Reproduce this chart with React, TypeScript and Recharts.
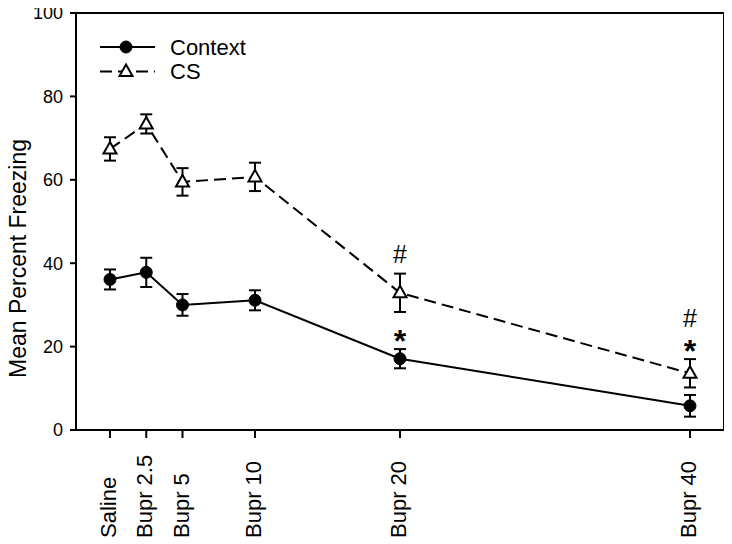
import React from 'react';
import { LineChart, Line, XAxis, YAxis, ErrorBar, ReferenceLine, Legend, LabelList, Label } from 'recharts';

const doses = [0, 2.5, 5, 10, 20, 40];
const doseLabels = ['Saline', 'Bupr 2.5', 'Bupr 5', 'Bupr 10', 'Bupr 20', 'Bupr 40'];
const contextMean = [36.1, 37.8, 30.0, 31.1, 17.1, 5.8];
const contextSem = [2.4, 3.5, 2.6, 2.4, 2.3, 2.6];
const csMean = [67.4, 73.4, 59.5, 60.7, 32.9, 13.6];
const csSem = [2.8, 2.3, 3.3, 3.4, 4.6, 3.4];
// significance marks, stacked bottom-up above the error bar
const contextMarks = ['', '', '', '', '*', ''];
const csMarks = ['', '', '', '', '#', '*#'];
const yTicks = [0, 20, 40, 60, 80, 100];
const seriesNames = ['Context', 'CS'];

const data = doses.map((d, i) => ({
  dose: d,
  context: contextMean[i],
  contextErr: contextSem[i],
  contextTop: contextMean[i] + contextSem[i],
  contextMark: contextMarks[i],
  cs: csMean[i],
  csErr: csSem[i],
  csTop: csMean[i] + csSem[i],
  csMark: csMarks[i],
}));

const X_MIN = -2.345;
const X_MAX = 42.345;
const BLACK = '#000';

const XTick = (props: any) => {
  const { x, y, payload } = props;
  const idx = doses.indexOf(payload.value);
  return (
    <text
      transform={`translate(${x},${y + 98}) rotate(-90)`}
      x={0}
      y={6}
      textAnchor="start"
      fontSize={22}
      fill={BLACK}
    >
      {doseLabels[idx]}
    </text>
  );
};

const CircleDot = (p: any) => (
  <circle key={`cd${p.index}`} cx={p.cx} cy={p.cy} r={6} fill={BLACK} stroke={BLACK} strokeWidth={1} />
);

const TriDot = (p: any) => {
  const { cx, cy } = p;
  const d = `M${cx},${cy - 7} L${cx + 6.5},${cy + 4.5} L${cx - 6.5},${cy + 4.5} Z`;
  return <path key={`td${p.index}`} d={d} fill="#fff" stroke={BLACK} strokeWidth={2} strokeLinejoin="miter" />;
};

const renderMarks = (p: any) => {
  const { x, y, value, index } = p;
  if (!value) return null;
  return (
    <g key={`mk${index}`}>
      {String(value).split('').map((ch, i) => {
        const cy = y - 16 - 22 * i - (ch === '#' ? 3 : 0);
        const fs = ch === '*' ? 32 : 25;
        const base = ch === '*' ? cy + 18.5 : cy + 8.6;
        return (
          <text
            key={i}
            x={x}
            y={base}
            textAnchor="middle"
            fontSize={fs}
            fontWeight={ch === '*' ? 'bold' : 'normal'}
            fill={BLACK}
          >
            {ch}
          </text>
        );
      })}
    </g>
  );
};

const renderYLabel = (p: any) => {
  const vb = p.viewBox || { x: 0, y: 13, width: 76, height: 417 };
  const cx = vb.x + 26;
  const cy = vb.y + vb.height / 2 + 37;
  return (
    <text transform={`translate(${cx},${cy}) rotate(-90)`} textAnchor="middle" fontSize={23} fill={BLACK}>
      Mean Percent Freezing
    </text>
  );
};

const renderLegend = () => (
  <svg width={180} height={56}>
    {seriesNames.map((name, i) => {
      const y = 15 + i * 24.5;
      return (
        <g key={name}>
          <line
            x1={4}
            x2={59}
            y1={y}
            y2={y}
            stroke={BLACK}
            strokeWidth={2}
            strokeDasharray={i === 1 ? '12 6' : undefined}
          />
          {i === 0 ? CircleDot({ cx: 30, cy: y, index: 'l0' }) : TriDot({ cx: 30, cy: y, index: 'l1' })}
          <text x={74} y={y} dy="0.36em" fontSize={22} fill={BLACK}>
            {name}
          </text>
        </g>
      );
    })}
  </svg>
);

export default function App() {
  return (
    <div
      style={{
        fontFamily: '"Liberation Sans", Arial, sans-serif',
        background: '#fff',
        width: 732,
        height: 544,
        margin: '-8px 0 0 -8px',
      }}
    >
      <LineChart width={732} height={544} data={data} margin={{ top: 13, right: 8, left: 0, bottom: 0 }}>
        <XAxis
          dataKey="dose"
          type="number"
          domain={[X_MIN, X_MAX]}
          ticks={doses}
          interval={0}
          height={114}
          tickSize={8}
          tickMargin={2}
          tick={<XTick />}
          axisLine={{ stroke: BLACK, strokeWidth: 2 }}
          tickLine={{ stroke: BLACK, strokeWidth: 2 }}
        />
        <YAxis
          type="number"
          domain={[0, 100]}
          ticks={yTicks}
          interval={0}
          width={76}
          tickSize={6}
          tickMargin={7}
          tick={{ fontSize: 18, fill: BLACK }}
          axisLine={{ stroke: BLACK, strokeWidth: 2 }}
          tickLine={{ stroke: BLACK, strokeWidth: 2 }}
        >
          <Label content={renderYLabel} />
        </YAxis>
        <ReferenceLine y={100} stroke={BLACK} strokeWidth={2} ifOverflow="visible" />
        <ReferenceLine x={X_MAX} stroke={BLACK} strokeWidth={2} ifOverflow="visible" />
        <Legend
          layout="horizontal"
          verticalAlign="middle"
          align="center"
          content={renderLegend}
          wrapperStyle={{ left: 96, top: 32, width: 180, height: 56 }}
        />
        <Line
          name="Context"
          dataKey="context"
          stroke={BLACK}
          strokeWidth={2}
          dot={CircleDot}
          activeDot={false}
          isAnimationActive={false}
        >
          <ErrorBar dataKey="contextErr" direction="y" width={6} stroke={BLACK} strokeWidth={2} />
        </Line>
        <Line
          name="CS"
          dataKey="cs"
          stroke={BLACK}
          strokeWidth={2}
          strokeDasharray="12 6"
          dot={TriDot}
          activeDot={false}
          isAnimationActive={false}
        >
          <ErrorBar dataKey="csErr" direction="y" width={6} stroke={BLACK} strokeWidth={2} />
        </Line>
        <Line dataKey="contextTop" stroke="none" dot={false} activeDot={false} legendType="none" isAnimationActive={false}>
          <LabelList dataKey="contextMark" content={renderMarks} />
        </Line>
        <Line dataKey="csTop" stroke="none" dot={false} activeDot={false} legendType="none" isAnimationActive={false}>
          <LabelList dataKey="csMark" content={renderMarks} />
        </Line>
      </LineChart>
    </div>
  );
}
